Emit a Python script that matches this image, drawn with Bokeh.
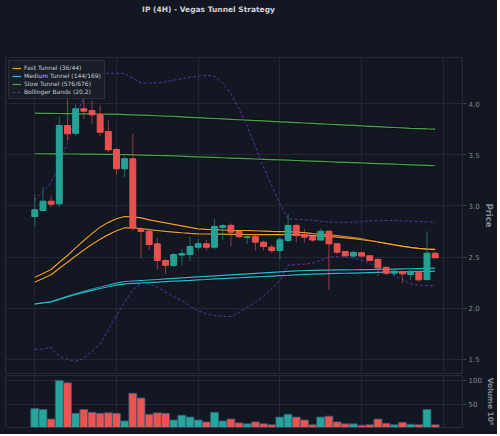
import numpy as np
from bokeh.plotting import figure
from bokeh.layouts import column
from bokeh.models import (ColumnDataSource, Range1d, FixedTicker, Legend, LegendItem,
                          PrintfTickFormatter, Span)
from bokeh.core.properties import value
from bokeh.embed import file_html
from bokeh.resources import INLINE

# ---------------- data ----------------
opens = [2.897, 2.956, 3.047, 3.021, 3.788, 3.712, 3.951, 3.934, 3.895, 3.729,
         3.553, 3.364, 3.462, 2.777, 2.753, 2.630, 2.467, 2.418, 2.520, 2.525,
         2.597, 2.630, 2.597, 2.790, 2.810, 2.750, 2.693, 2.700, 2.646, 2.597,
         2.565, 2.662, 2.810, 2.720, 2.700, 2.667, 2.753, 2.630, 2.555, 2.510,
         2.543, 2.513, 2.477, 2.400, 2.342, 2.356, 2.330, 2.352, 2.280, 2.538]
highs = [3.113, 3.184, 3.103, 3.876, 4.090, 3.995, 4.065, 4.030, 3.990, 3.837,
         3.566, 3.484, 3.706, 2.793, 2.780, 2.685, 2.483, 2.538, 2.580, 2.700,
         2.680, 2.670, 2.875, 2.826, 2.830, 2.760, 2.728, 2.725, 2.663, 2.623,
         2.695, 2.924, 2.830, 2.777, 2.700, 2.777, 2.760, 2.636, 2.560, 2.565,
         2.553, 2.520, 2.493, 2.408, 2.380, 2.370, 2.375, 2.362, 2.753, 2.550]
lows = [2.809, 2.950, 2.989, 2.989, 3.641, 3.690, 3.850, 3.800, 3.680, 3.526,
        3.305, 3.282, 2.760, 2.493, 2.571, 2.379, 2.336, 2.400, 2.418, 2.460,
        2.565, 2.565, 2.575, 2.669, 2.604, 2.685, 2.630, 2.565, 2.565, 2.538,
        2.474, 2.646, 2.646, 2.640, 2.650, 2.663, 2.180, 2.525, 2.500, 2.493,
        2.497, 2.460, 2.313, 2.320, 2.310, 2.245, 2.278, 2.260, 2.270, 2.490]
closes = [2.963, 3.047, 3.018, 3.788, 3.706, 3.951, 3.928, 3.892, 3.722, 3.550,
          3.364, 3.462, 2.783, 2.750, 2.623, 2.467, 2.420, 2.525, 2.535, 2.604,
          2.630, 2.597, 2.800, 2.807, 2.744, 2.700, 2.700, 2.646, 2.604, 2.565,
          2.669, 2.810, 2.710, 2.695, 2.667, 2.753, 2.630, 2.548, 2.513, 2.545,
          2.510, 2.467, 2.395, 2.342, 2.362, 2.336, 2.362, 2.278, 2.538, 2.493]
volumes = [41, 39, 19, 100, 95, 31, 39, 33, 31, 32,
           31, 15, 73, 63, 29, 32, 31, 17, 27, 23,
           17, 13, 33, 15, 19, 11, 9, 13, 9, 7,
           23, 29, 23, 17, 7, 23, 25, 13, 9, 9,
           6, 7, 19, 10, 7, 12, 8, 7, 39, 7]

fast_upper = [2.303, 2.340, 2.379, 2.450, 2.516, 2.590, 2.662, 2.730, 2.793, 2.840,
              2.875, 2.897, 2.893, 2.883, 2.865, 2.850, 2.835, 2.820, 2.805, 2.790,
              2.777, 2.772, 2.768, 2.765, 2.762, 2.760, 2.760, 2.758, 2.755, 2.752,
              2.750, 2.750, 2.745, 2.740, 2.730, 2.722, 2.718, 2.710, 2.700, 2.690,
              2.680, 2.665, 2.650, 2.635, 2.620, 2.605, 2.592, 2.585, 2.581, 2.578]
fast_lower = [2.254, 2.290, 2.327, 2.390, 2.450, 2.510, 2.570, 2.625, 2.675, 2.720,
              2.758, 2.787, 2.785, 2.780, 2.768, 2.760, 2.752, 2.745, 2.738, 2.732,
              2.728, 2.726, 2.725, 2.724, 2.723, 2.722, 2.721, 2.720, 2.720, 2.720,
              2.720, 2.720, 2.719, 2.715, 2.710, 2.705, 2.700, 2.695, 2.688, 2.680,
              2.670, 2.660, 2.648, 2.634, 2.620, 2.607, 2.595, 2.585, 2.578, 2.574]
medium_upper = [2.043, 2.054, 2.065, 2.092, 2.118, 2.143, 2.165, 2.187, 2.207, 2.226,
                2.245, 2.261, 2.266, 2.271, 2.276, 2.281, 2.286, 2.291, 2.296, 2.301,
                2.306, 2.311, 2.316, 2.321, 2.326, 2.331, 2.336, 2.341, 2.346, 2.351,
                2.356, 2.361, 2.366, 2.369, 2.371, 2.372, 2.373, 2.374, 2.375, 2.376,
                2.377, 2.378, 2.379, 2.380, 2.382, 2.384, 2.386, 2.388, 2.390, 2.392]
medium_lower = [2.040, 2.051, 2.062, 2.087, 2.111, 2.134, 2.155, 2.175, 2.193, 2.210,
                2.225, 2.238, 2.242, 2.246, 2.250, 2.255, 2.260, 2.264, 2.268, 2.272,
                2.277, 2.281, 2.286, 2.290, 2.294, 2.298, 2.302, 2.306, 2.310, 2.314,
                2.318, 2.322, 2.327, 2.330, 2.333, 2.336, 2.338, 2.340, 2.342, 2.344,
                2.346, 2.348, 2.350, 2.352, 2.354, 2.356, 2.358, 2.360, 2.361, 2.362]
slow_upper = [3.908, 3.907, 3.906, 3.905, 3.904, 3.903, 3.902, 3.901, 3.900, 3.899,
              3.898, 3.895, 3.892, 3.889, 3.886, 3.883, 3.879, 3.876, 3.872, 3.868,
              3.864, 3.860, 3.856, 3.852, 3.848, 3.844, 3.840, 3.836, 3.832, 3.828,
              3.824, 3.820, 3.816, 3.812, 3.808, 3.804, 3.800, 3.796, 3.792, 3.788,
              3.784, 3.780, 3.776, 3.772, 3.768, 3.764, 3.760, 3.757, 3.754, 3.752]
slow_lower = [3.511, 3.511, 3.510, 3.510, 3.509, 3.509, 3.508, 3.507, 3.506, 3.505,
              3.504, 3.502, 3.500, 3.498, 3.496, 3.494, 3.492, 3.490, 3.487, 3.484,
              3.481, 3.478, 3.475, 3.472, 3.469, 3.466, 3.463, 3.460, 3.457, 3.454,
              3.451, 3.448, 3.445, 3.442, 3.439, 3.436, 3.433, 3.430, 3.427, 3.424,
              3.421, 3.418, 3.415, 3.412, 3.409, 3.406, 3.403, 3.400, 3.397, 3.394]
bb_upper = [3.060, 3.140, 3.230, 3.400, 3.620, 3.870, 4.070, 4.220, 4.290, 4.300,
            4.300, 4.295, 4.250, 4.205, 4.203, 4.205, 4.215, 4.230, 4.245, 4.260,
            4.270, 4.278, 4.270, 4.200, 4.100, 3.950, 3.780, 3.580, 3.380, 3.200,
            3.020, 2.875, 2.868, 2.866, 2.862, 2.850, 2.843, 2.840, 2.840, 2.842,
            2.848, 2.855, 2.858, 2.858, 2.856, 2.855, 2.852, 2.848, 2.845, 2.842]
bb_lower = [1.596, 1.600, 1.615, 1.530, 1.500, 1.480, 1.510, 1.580, 1.650, 1.790,
            1.930, 2.060, 2.180, 2.245, 2.235, 2.205, 2.160, 2.110, 2.075, 2.020,
            1.975, 1.945, 1.930, 1.920, 1.918, 1.960, 2.010, 2.060, 2.120, 2.190,
            2.270, 2.420, 2.428, 2.432, 2.440, 2.470, 2.500, 2.505, 2.500, 2.490,
            2.470, 2.440, 2.400, 2.360, 2.320, 2.280, 2.240, 2.225, 2.222, 2.222]

title_text = "IP (4H) - Vegas Tunnel Strategy"
legend_labels = ["Fast Tunnel (36/44)", "Medium Tunnel (144/169)",
                 "Slow Tunnel (576/676)", "Bollinger Bands (20,2)"]
price_ticks = [1.5, 2.0, 2.5, 3.0, 3.5, 4.0]
volume_ticks = [50, 100]

# ---------------- styles ----------------
BG = "#131722"
GRID = "#232733"
SPINE = "#3b3f4b"
TICK_TXT = "#848893"
UP = "#26a69a"
DOWN = "#ef5350"
FAST_C = "#ffa726"
MED_C = "#26c6da"
SLOW_C = "#4caf50"
BB_C = "#5e35b1"
FONT = "DejaVu Sans"

n = len(opens)
idx = list(range(n))
colors = [UP if c >= o else DOWN for o, c in zip(opens, closes)]
src = ColumnDataSource(dict(
    x=idx, open=opens, high=highs, low=lows, close=closes,
    top=[max(o, c) for o, c in zip(opens, closes)],
    bottom=[min(o, c) for o, c in zip(opens, closes)],
    color=colors, volume=volumes,
))

X0, X1 = -3.586, 52.35
x_range = Range1d(X0, X1)
x_grid_ticks = list(range(0, n + 1, 10))


def style(fig, y0, y1):
    fig.background_fill_color = BG
    fig.border_fill_color = BG
    fig.outline_line_color = None
    fig.xaxis.visible = False
    fig.xgrid.ticker = FixedTicker(ticks=x_grid_ticks)
    fig.grid.grid_line_color = GRID
    fig.grid.grid_line_width = 1
    ax = fig.yaxis[0]
    ax.axis_line_color = None
    ax.major_tick_line_color = SPINE
    ax.major_tick_out = 4
    ax.major_tick_in = 0
    ax.minor_tick_line_color = None
    ax.major_label_text_color = TICK_TXT
    ax.major_label_text_font = FONT
    ax.major_label_text_font_size = "7px"
    ax.major_label_standoff = 2
    ax.axis_label_text_color = TICK_TXT
    ax.axis_label_text_font = FONT
    ax.axis_label_text_font_style = "bold"
    ax.axis_label_text_font_size = "8.5px"
    ax.axis_label_standoff = 1
    # spines along the range bounds
    for loc, dim in [(X0, "height"), (X1, "height"), (y0, "width"), (y1, "width")]:
        fig.add_layout(Span(location=loc, dimension=dim, line_color=SPINE, line_width=1.2))


# ---------------- title strip (frame aligned with the panels below) ----------------
t = figure(frame_width=457, frame_height=57, x_range=Range1d(5, 462), y_range=Range1d(0, 57),
           x_axis_type=None, y_axis_type=None, output_backend="svg",
           toolbar_location=None, tools="",
           min_border_left=5, min_border_right=0, min_border_top=0, min_border_bottom=0)
t.background_fill_color = BG
t.border_fill_color = BG
t.outline_line_color = None
t.title.visible = False
t.text(x=[208], y=[48.5], text=[title_text], text_align="center",
       text_baseline="middle", text_font=value(FONT), text_font_size="7.5px",
       text_font_style="bold", text_color="#d1d4dc")

# ---------------- price panel ----------------
PY0, PY1 = 1.361, 4.453
p = figure(frame_width=457, frame_height=316, x_range=x_range,
           y_range=Range1d(PY0, PY1), y_axis_location="right",
           output_backend="svg", toolbar_location=None, tools="",
           min_border_left=5, min_border_top=0, min_border_bottom=1, min_border_right=0)
style(p, PY0, PY1)
p.title.visible = False
p.yaxis.ticker = FixedTicker(ticks=price_ticks)
p.yaxis.formatter = PrintfTickFormatter(format="%.1f")
p.yaxis.axis_label = "Price"
p.ygrid.ticker = FixedTicker(ticks=price_ticks)

# tunnels
lines = {}
for name, ys, col in [("fu", fast_upper, FAST_C), ("fl", fast_lower, FAST_C),
                      ("mu", medium_upper, MED_C), ("ml", medium_lower, MED_C),
                      ("su", slow_upper, SLOW_C), ("sl", slow_lower, SLOW_C)]:
    p.line(idx, ys, line_color="#000000", line_alpha=0.35, line_width=3)
    lines[name] = p.line(idx, ys, line_color=col, line_width=1.2, line_alpha=0.95)

bbu = p.line(idx, bb_upper, line_color=BB_C, line_width=1, line_dash="3 2", line_alpha=0.9)
p.line(idx, bb_lower, line_color=BB_C, line_width=1, line_dash="3 2", line_alpha=0.9)

# candles
p.segment(x0="x", y0="low", x1="x", y1="high", source=src, line_color="color",
          line_alpha=0.6, line_width=1)
p.vbar(x="x", width=0.72, top="top", bottom="bottom", source=src,
       fill_color="color", line_color="color", fill_alpha=0.95)

legend = Legend(items=[
    LegendItem(label=legend_labels[0], renderers=[lines["fu"]]),
    LegendItem(label=legend_labels[1], renderers=[lines["mu"]]),
    LegendItem(label=legend_labels[2], renderers=[lines["su"]]),
    LegendItem(label=legend_labels[3], renderers=[bbu]),
], location="top_left")
legend.margin = 3
legend.padding = 3
legend.spacing = 1
legend.glyph_width = 9
legend.glyph_height = 6
legend.label_height = 6
legend.label_standoff = 3
legend.label_text_font = FONT
legend.label_text_font_size = "6px"
legend.label_text_color = "#c8ccd4"
legend.background_fill_color = "#1b1f2a"
legend.background_fill_alpha = 0.9
legend.border_line_color = "#3a3f4b"
p.add_layout(legend)

# ---------------- volume panel ----------------
VY0, VY1 = 1.2, 110.3
v = figure(frame_width=457, frame_height=52, x_range=x_range,
           y_range=Range1d(VY0, VY1), y_axis_location="right",
           output_backend="svg", toolbar_location=None, tools="",
           min_border_left=5, min_border_top=1, min_border_bottom=7, min_border_right=0)
style(v, VY0, VY1)
v.title.visible = False
v.yaxis.ticker = FixedTicker(ticks=volume_ticks)
v.ygrid.ticker = FixedTicker(ticks=volume_ticks)
v.yaxis.axis_label = "Volume 10\u2076"
v.yaxis.axis_label_text_font_size = "7.5px"
v.vbar(x="x", width=0.98, top="volume", bottom=0, source=src,
       fill_color="color", line_color="#34557a", line_width=0.8)

layout = column(t, p, v, spacing=0, styles={"background-color": BG})
open("out.html", "w").write(file_html(layout, INLINE))
